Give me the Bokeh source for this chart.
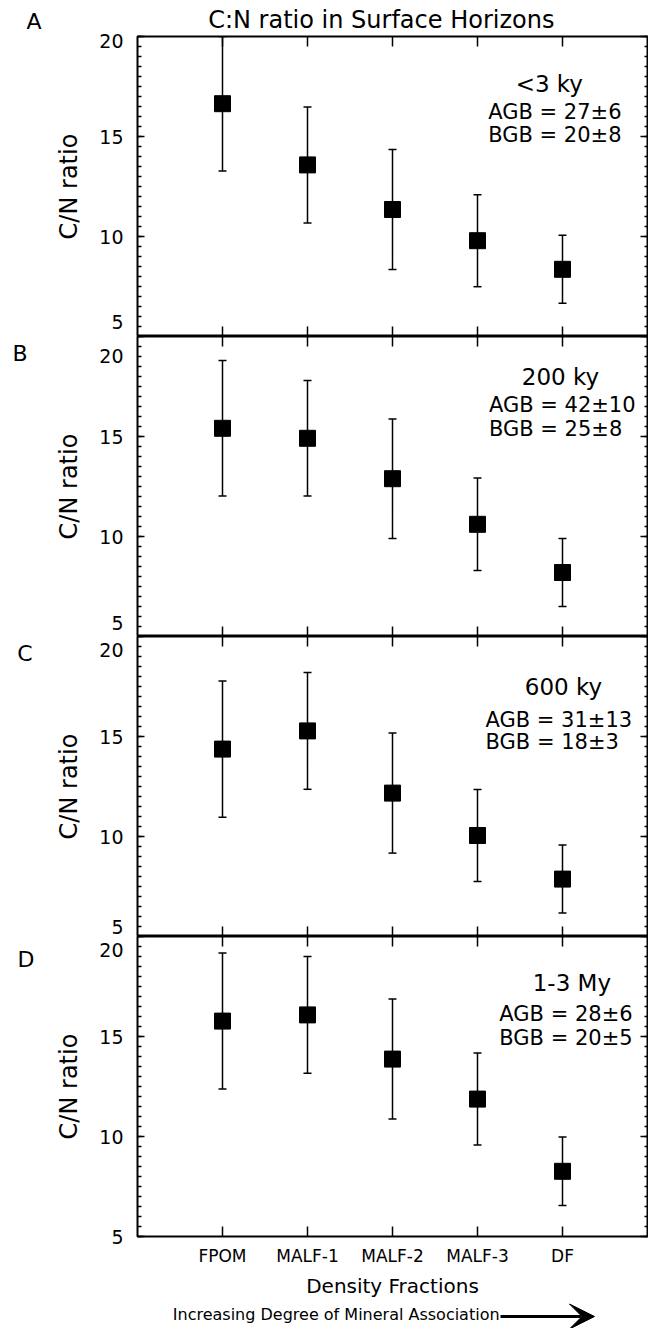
import numpy as np
from bokeh.plotting import figure
from bokeh.models import (Range1d, LinearAxis, FixedTicker, ColumnDataSource, Whisker,
                          TeeHead, Arrow, VeeHead)
from bokeh.layouts import column
from bokeh.core.properties import value
from bokeh.embed import file_html
from bokeh.resources import INLINE

# ---------------- data ----------------
categories = ["FPOM", "MALF-1", "MALF-2", "MALF-3", "DF"]
x_pos = [1, 2, 3, 4, 5]

panel_letters = ["A", "B", "C", "D"]
ages = ["<3 ky", "200 ky", "600 ky", "1-3 My"]
agb_text = ["AGB = 27±6", "AGB = 42±10", "AGB = 31±13", "AGB = 28±6"]
bgb_text = ["BGB = 20±8", "BGB = 25±8", "BGB = 18±3", "BGB = 20±5"]

cn_a = [16.64, 13.58, 11.35, 9.79, 8.36]
err_a = [3.36, 2.90, 3.00, 2.30, 1.70]
cn_b = [15.41, 14.91, 12.89, 10.61, 8.20]
err_b = [3.39, 2.89, 2.99, 2.31, 1.70]
cn_c = [14.37, 15.28, 12.17, 10.05, 7.87]
err_c = [3.41, 2.92, 3.00, 2.30, 1.70]
cn_d = [15.77, 16.08, 13.87, 11.87, 8.26]
err_d = [3.40, 2.92, 3.00, 2.30, 1.71]

y_ticks = [5, 10, 15, 20]
y_tick_labels = ["5", "10", "15", "20"]

title_text = "C:N ratio in Surface Horizons"
y_label = "C/N ratio"
x_label = "Density Fractions"
arrow_text = "Increasing Degree of Mineral Association"

# ---------------- style / layout ----------------
FONT = "DejaVu Sans"
FRAME_L = 137          # px from left edge of the page to the plot frame
FW, FH = 510, 300
CANVAS_W = FRAME_L + FW + 1
TOP_H, A_TOP, D_BOTTOM, BOT_H = 33, 3, 64, 28
X0, X1, Y0, Y1 = 0, 6, 5, 20
PXX = FW / (X1 - X0)
PXY = FH / (Y1 - Y0)
MINOR_Y = [float(v) for v in np.arange(Y0, Y1 + 0.01, 0.5)]


def xpx(px):
    return X0 + (px - FRAME_L) / PXX


# vertical nudges (px, + = up) of the tick labels 5,10,15,20 in each panel
tick_dy = [[15, 0, 0, -4], [14, 0, 0, -19], [10, 0, 0, -13], [0, 0, 0, -13]]
# letters of panels B-D: (px below the frame top, standoff)
letter_place = [None, (17, 25), (17, 20), (22.7, 18)]
# in-panel texts: (px right of frame left, px below frame top)
age_pos = [(411.8, 47), (423, 40.5), (426, 50.5), (434.4, 46.3)]
agb_pos = [(350.7, 75.3), (351.4, 68), (348, 83), (361.8, 77)]
bgb_pos = [(350.7, 98.7), (351.4, 92), (348, 105), (361.8, 101)]


def tick_axis(ticks, minor, minor_len, **kw):
    return LinearAxis(ticker=FixedTicker(ticks=ticks, minor_ticks=minor),
                      major_tick_in=0, major_tick_out=0, minor_tick_in=minor_len,
                      minor_tick_out=0, axis_line_color=None,
                      major_tick_line_color=None, minor_tick_line_color="black",
                      minor_tick_line_width=1.5, **kw)


def strip(height):
    s = figure(frame_width=CANVAS_W, frame_height=height,
               x_range=Range1d(xpx(0), xpx(CANVAS_W)), y_range=Range1d(height, 0),
               x_axis_type=None, y_axis_type=None, toolbar_location=None,
               output_backend="svg", min_border=0, outline_line_color=None,
               background_fill_color="white", border_fill_color="white",
               frame_align=False)
    return s


def make_panel(i, means, errs):
    first, last = i == 0, i == 3
    p = figure(frame_width=FW, frame_height=FH,
               x_range=Range1d(X0, X1), y_range=Range1d(Y0, Y1),
               x_axis_type=None, y_axis_type=None,
               toolbar_location=None, output_backend="svg",
               min_border_left=FRAME_L, min_border_right=1,
               min_border_top=A_TOP if first else 0,
               min_border_bottom=D_BOTTOM if last else 0,
               background_fill_color="white", border_fill_color="white",
               outline_line_color="black", outline_line_width=2)

    # left: long ticks at the labelled values, short ticks every 0.5, labels
    p.add_layout(tick_axis([], [float(t) for t in y_ticks], 7), "left")
    lab_pos = [t + d / PXY for t, d in zip(y_ticks, tick_dy[i])]
    lab_ax = tick_axis(lab_pos, MINOR_Y, 4)
    lab_ax.major_label_overrides = {p_: s for p_, s in zip(lab_pos, y_tick_labels)}
    lab_ax.major_label_text_font = FONT
    lab_ax.major_label_text_font_size = "19px"
    lab_ax.major_label_text_color = "black"
    lab_ax.major_label_standoff = 14
    lab_ax.axis_label = y_label
    lab_ax.axis_label_text_font = FONT
    lab_ax.axis_label_text_font_size = "24px"
    lab_ax.axis_label_text_font_style = "normal"
    lab_ax.axis_label_text_color = "black"
    lab_ax.axis_label_standoff = 13
    p.add_layout(lab_ax, "left")
    if letter_place[i] is not None:
        below_top, standoff = letter_place[i]
        ly = Y1 - below_top / PXY
        let_ax = tick_axis([ly], [], 0)
        let_ax.major_label_overrides = {ly: panel_letters[i]}
        let_ax.major_label_text_font = FONT
        let_ax.major_label_text_font_size = "22px"
        let_ax.major_label_text_color = "black"
        let_ax.major_label_standoff = standoff
        p.add_layout(let_ax, "left")

    # right: short ticks every 0.5, longer at 5/10/15/20
    p.add_layout(tick_axis([], MINOR_Y, 3), "right")
    p.add_layout(tick_axis([], [float(t) for t in y_ticks], 7), "right")

    # top ticks
    p.add_layout(tick_axis([], [float(x) for x in x_pos], 10), "above")
    # bottom ticks (+ labels on the last panel)
    if last:
        bot = LinearAxis(ticker=FixedTicker(ticks=x_pos), major_tick_in=10, major_tick_out=0,
                         minor_tick_line_color=None, axis_line_color=None,
                         major_tick_line_color="black", major_tick_line_width=1.5)
        bot.major_label_overrides = {k: c for k, c in zip(x_pos, categories)}
        bot.major_label_text_font = FONT
        bot.major_label_text_font_size = "17px"
        bot.major_label_text_color = "black"
        bot.major_label_standoff = 9
        bot.axis_label = x_label
        bot.axis_label_text_font = FONT
        bot.axis_label_text_font_size = "20px"
        bot.axis_label_text_font_style = "normal"
        bot.axis_label_text_color = "black"
        bot.axis_label_standoff = 5
        p.add_layout(bot, "below")
    else:
        p.add_layout(tick_axis([], [float(x) for x in x_pos], 10), "below")

    # error bars and points
    src = ColumnDataSource(dict(
        x=x_pos, y=means,
        upper=[m + e for m, e in zip(means, errs)],
        lower=[m - e for m, e in zip(means, errs)]))
    p.add_layout(Whisker(source=src, base="x", upper="upper", lower="lower",
                         dimension="height", line_color="black", line_width=1.5,
                         upper_head=TeeHead(size=8, line_width=1.5, line_color="black"),
                         lower_head=TeeHead(size=8, line_width=1.5, line_color="black")))
    p.scatter("x", "y", source=src, marker="square", size=16,
              fill_color="black", line_color="black")

    # in-panel annotation texts
    ax_, ay_ = age_pos[i]
    p.text(x=[xpx(FRAME_L + ax_)], y=[Y1 - ay_ / PXY], text=[ages[i]],
           text_font=value(FONT), text_font_size="23px", text_align="center",
           text_baseline="middle", text_color="black")
    gx, gy = agb_pos[i]
    bx, by = bgb_pos[i]
    p.text(x=[xpx(FRAME_L + gx), xpx(FRAME_L + bx)],
           y=[Y1 - gy / PXY, Y1 - by / PXY], text=[agb_text[i], bgb_text[i]],
           text_font=value(FONT), text_font_size="21px", text_align="left",
           text_baseline="middle", text_color="black")
    return p


# top strip: panel letter A and the title
top = strip(TOP_H)
top.text(x=[xpx(33.5)], y=[21], text=[panel_letters[0]], text_font=value(FONT),
         text_font_size="22px", text_align="center", text_baseline="middle",
         text_color="black")
top.text(x=[xpx(380.8)], y=[19], text=[title_text], text_font=value(FONT),
         text_font_size="24px", text_align="center", text_baseline="middle",
         text_color="black")

panels = [make_panel(i, m, e) for i, (m, e) in enumerate(
    [(cn_a, err_a), (cn_b, err_b), (cn_c, err_c), (cn_d, err_d)])]

# bottom strip: explanatory text and arrow
bottom = strip(BOT_H)
bottom.text(x=[xpx(172.3)], y=[14], text=[arrow_text], text_font=value(FONT),
            text_font_size="16px", text_align="left", text_baseline="middle",
            text_color="black")
bottom.add_layout(Arrow(x_start=xpx(500), y_start=16, x_end=xpx(594), y_end=16,
                        line_width=3, line_color="black",
                        end=VeeHead(size=25, fill_color="black", line_color="black")))

layout = column(top, *panels, bottom, spacing=0)
open("out.html", "w").write(file_html(layout, INLINE))
